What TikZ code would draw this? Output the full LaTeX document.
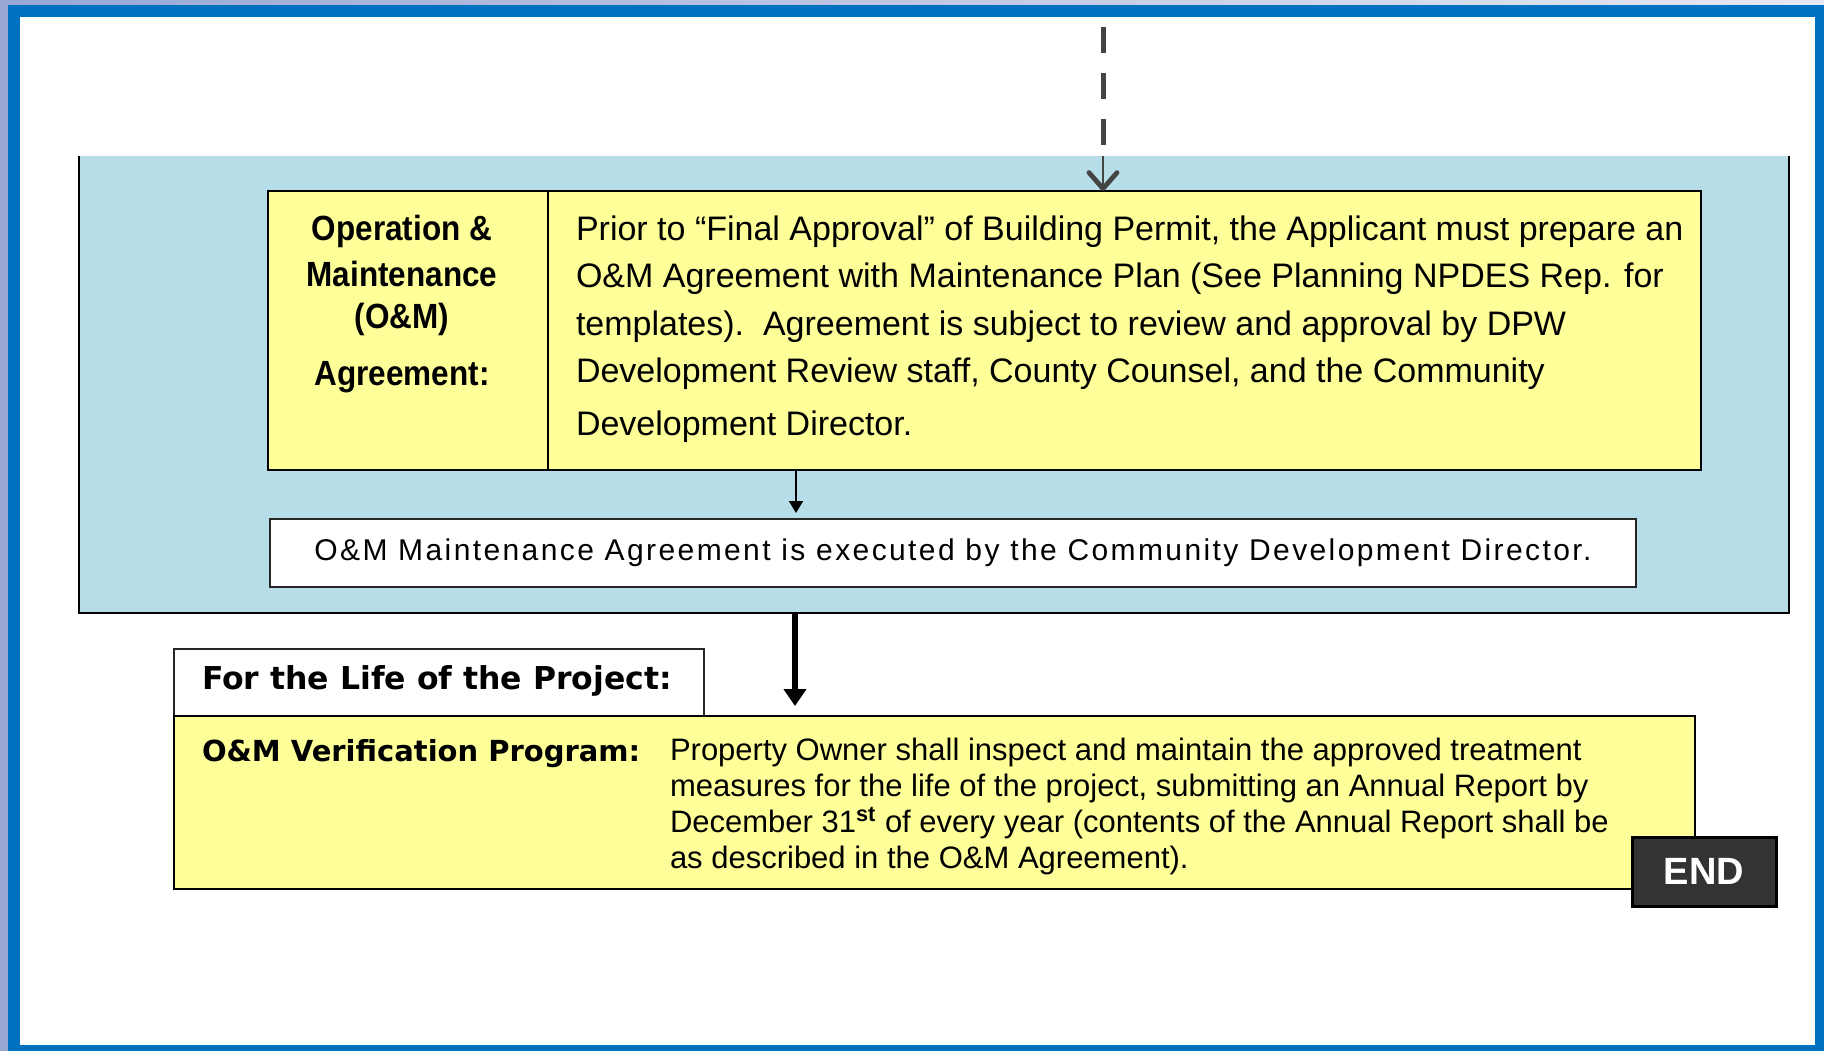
\documentclass[tikz,border=0pt]{standalone}
\usepackage{fontspec}
\setmainfont{Liberation Sans}
\newfontfamily\narrowbold{Liberation Sans}[FakeStretch=0.9]
\newfontfamily\djv{DejaVu Sans}
\newfontfamily\spaced{Liberation Sans}[LetterSpace=8]
\usetikzlibrary{arrows.meta}
\definecolor{yel}{HTML}{FFFF99}
\definecolor{panelblue}{HTML}{B7DDE8}
\definecolor{frameblue}{HTML}{0070C0}
\definecolor{lav}{HTML}{98A8D5}
\definecolor{lavlight}{HTML}{E6E9F3}
\definecolor{dgray}{HTML}{444444}
\definecolor{endgray}{HTML}{333333}
\tikzset{
  boxnode/.style={draw=black, line width=1pt, inner sep=0pt, outer sep=0pt, anchor=north west},
  yelbox/.style={boxnode, fill=yel},
  whitebox/.style={boxnode, fill=white, draw=black!85},
  lbl/.style={inner sep=0pt, outer sep=0pt, anchor=base},
  lblw/.style={inner sep=0pt, outer sep=0pt, anchor=base west}
}
\begin{document}
\begin{tikzpicture}[x=0.5pt,y=-0.5pt]
\useasboundingbox (0,0) rectangle (1824,1051);
% background and frame
\fill[white] (0,0) rectangle (1824,1051);
\fill[lav] (0,0) rectangle (8,1051);
\shade[left color=lav, right color=lavlight] (8,0) rectangle (1824,5);
\fill[frameblue] (8,5) rectangle (1824,1051);
\fill[white] (20,17) rectangle (1815,1045);
% light blue panel
\node[boxnode, draw=none, fill=panelblue, minimum width=855pt, minimum height=228.5pt] (pnl) at (79,156) {};
\draw[black, line width=1pt] (pnl.north west) -- (pnl.south west) -- (pnl.south east) -- (pnl.north east);
% top yellow boxes
\node[yelbox, minimum width=140pt, minimum height=139.5pt] (lab) at (268,191) {};
\node[yelbox, minimum width=576.5pt, minimum height=139.5pt] (desc) at (548,191) {};
\node[lbl, font={\narrowbold\bfseries\fontsize{17.5pt}{23pt}\selectfont}, align=center] (labtxt) at (402,385)
  {Operation \&\\Maintenance\\[-2pt](O\&M)\\[5.5pt]Agreement:};
\node[lblw, font={\fontsize{17pt}{23.75pt}\selectfont}, align=left] (desctxt) at (576,435)
  {Prior to “Final Approval” of Building Permit, the Applicant must prepare an\\
   O\&M Agreement with Maintenance Plan (See Planning NPDES Rep. for\\
   templates).\ \ Agreement is subject to review and approval by DPW\\
   Development Review staff, County Counsel, and the Community\\[2.5pt]
   Development Director.};
% white box
\node[whitebox, anchor=center, minimum width=683pt, minimum height=34pt,
      font={\spaced\fontsize{15pt}{18pt}\selectfont}] (wb) at (953,553)
  {O\&M Maintenance Agreement is executed by the Community Development Director.};
% lower boxes
\node[whitebox, minimum width=265pt, minimum height=33.5pt] (life) at (174,649) {};
\node[lblw, font={\djv\bfseries\fontsize{15.75pt}{18pt}\selectfont}] (lifetxt) at (202,689) {For the Life of the Project:};
\node[yelbox, minimum width=760.5pt, minimum height=86.5pt, line width=1.3pt] (bot) at (174,716) {};
\node[lblw, font={\djv\bfseries\fontsize{14.5pt}{18pt}\selectfont}] (vertxt) at (202,761) {O\&M Verification Program:};
\node[lblw, font={\fontsize{15.5pt}{17.85pt}\selectfont}, align=left] (bottxt) at (670,868)
  {Property Owner shall inspect and maintain the approved treatment\\
   measures for the life of the project, submitting an Annual Report by\\
   December 31\textsuperscript{\bfseries st} of every year (contents of the Annual Report shall be\\
   as described in the O\&M Agreement).};
\node[boxnode, anchor=center, fill=endgray, line width=1.5pt, minimum width=72pt, minimum height=34.5pt,
      text=white, font={\bfseries\fontsize{19pt}{22pt}\selectfont}] (endn) at (1704,871.5) {END};
% connectors
\coordinate (dtop) at (1103,27);
\draw[dgray, line width=2.5pt, dash pattern=on 13pt off 10pt] (dtop) -- (dtop |- pnl.north);
\draw[dgray, line width=0.8pt, -{Straight Barb[length=8pt, width=14pt, line width=2.4pt 0, line cap=round, line join=round]}] (dtop |- pnl.north) -- (dtop |- desc.north);
\coordinate (sa) at (796,0);
\draw[black, line width=1pt, shorten >=3pt, -{Triangle[length=6pt, width=7pt]}] (sa |- desc.south) -- (sa |- wb.north);
\coordinate (ta) at (795,0);
\draw[black, line width=3pt, shorten >=5pt, -{Triangle[length=8.5pt, width=11pt]}] (ta |- pnl.south) -- (ta |- bot.north);
\end{tikzpicture}
\end{document}
